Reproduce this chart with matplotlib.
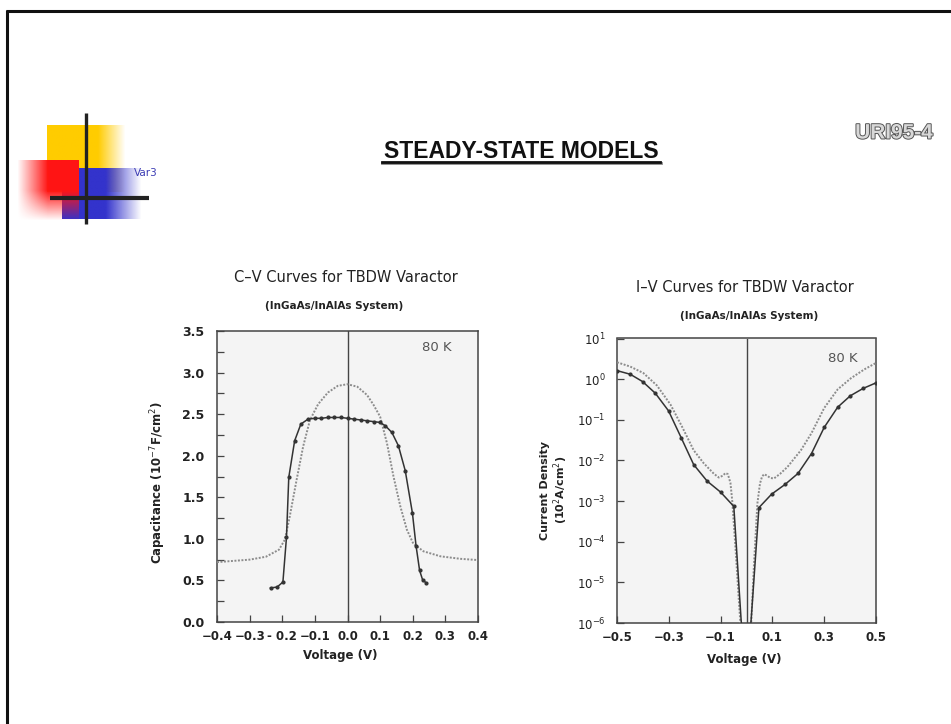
import numpy as np
import matplotlib
matplotlib.use("Agg")
import matplotlib.pyplot as plt
import matplotlib.patheffects as pe
from matplotlib.ticker import MultipleLocator, FixedLocator, LogLocator, NullLocator

# ---------------- data ----------------
# C-V chart (80 K)
cv_meas_v = [-0.236, -0.216, -0.198, -0.187, -0.180, -0.162, -0.143, -0.121, -0.10, -0.08, -0.06,
             -0.04, -0.02, 0.0, 0.02, 0.04, 0.06, 0.08, 0.10, 0.116, 0.136, 0.156, 0.177, 0.199,
             0.210, 0.221, 0.230, 0.241]
cv_meas_c = [0.41, 0.42, 0.48, 1.02, 1.74, 2.18, 2.38, 2.44, 2.45, 2.45, 2.46,
             2.46, 2.46, 2.45, 2.44, 2.43, 2.42, 2.41, 2.40, 2.36, 2.28, 2.12, 1.82, 1.31,
             0.92, 0.62, 0.51, 0.47]
cv_theo_v = [-0.40, -0.35, -0.30, -0.25, -0.21, -0.192, -0.177, -0.156, -0.136, -0.115, -0.09,
             -0.06, -0.03, 0.0, 0.03, 0.06, 0.08, 0.10, 0.121, 0.141, 0.162, 0.182, 0.202,
             0.233, 0.285, 0.346, 0.40]
cv_theo_c = [0.72, 0.735, 0.75, 0.785, 0.87, 0.99, 1.27, 1.71, 2.11, 2.43, 2.62,
             2.76, 2.84, 2.86, 2.83, 2.73, 2.61, 2.47, 2.15, 1.75, 1.39, 1.11, 0.94,
             0.85, 0.79, 0.76, 0.745]

# I-V chart (80 K), current density in 10^2 A/cm^2
iv_meas_left_v = [-0.5, -0.449, -0.401, -0.352, -0.301, -0.252, -0.204, -0.152, -0.10, -0.049, -0.019]
iv_meas_left_j = [1.62, 1.32, 0.87, 0.45, 0.166, 0.036, 0.0079, 0.0031, 0.00166, 0.00074, 8e-7]
iv_meas_right_v = [0.016, 0.048, 0.097, 0.149, 0.199, 0.251, 0.300, 0.352, 0.401, 0.45, 0.50]
iv_meas_right_j = [8e-7, 0.00069, 0.00148, 0.00257, 0.0048, 0.0148, 0.065, 0.204, 0.39, 0.59, 0.81]
iv_theo_left_v = [-0.5, -0.449, -0.398, -0.346, -0.294, -0.249, -0.204, -0.165, -0.126, -0.107,
                  -0.092, -0.081, -0.072, -0.062, -0.055, -0.042, -0.030, -0.022]
iv_theo_left_j = [2.6, 2.04, 1.41, 0.70, 0.24, 0.068, 0.0178, 0.0085, 0.0047, 0.0038,
                  0.0042, 0.0049, 0.0046, 0.0028, 0.001, 6.3e-5, 4e-6, 7e-7]
iv_theo_right_v = [0.017, 0.029, 0.042, 0.052, 0.060, 0.068, 0.080, 0.092, 0.106, 0.130, 0.158,
                   0.21, 0.251, 0.30, 0.352, 0.403, 0.455, 0.50]
iv_theo_right_j = [7e-7, 2.9e-5, 0.00087, 0.0027, 0.0040, 0.0046, 0.0042, 0.0037, 0.0036, 0.0047, 0.0069,
                   0.0178, 0.047, 0.195, 0.56, 1.05, 1.74, 2.5]

cv_xticks = [-0.4, -0.3, -0.2, -0.1, 0.0, 0.1, 0.2, 0.3, 0.4]
cv_xticklabels = ["\u22120.4", "\u22120.3", "- 0.2", "\u22120.1", "0.0", "0.1", "0.2", "0.3", "0.4"]
cv_yticks = [0.0, 0.5, 1.0, 1.5, 2.0, 2.5, 3.0, 3.5]
iv_xticks = [-0.5, -0.3, -0.1, 0.1, 0.3, 0.5]
iv_xticklabels = ["\u22120.5", "\u22120.3", "\u22120.1", "0.1", "0.3", "0.5"]

# ---------------- figure ----------------
W, H = 951, 724
fig = plt.figure(figsize=(W / 100, H / 100), dpi=100)
fig.patch.set_facecolor("white")

def fx(px):
    return px / W

def fy(py):
    return 1 - py / H

# background / decoration axes in pixel coordinates
bg = fig.add_axes([0, 0, 1, 1], zorder=0)
bg.set_xlim(0, W)
bg.set_ylim(H, 0)
bg.axis("off")

def grad_rect(ax, x0, x1, y0, y1, rgb, alpha_fn, n=64):
    xs = np.linspace(0, 1, n)
    ys = np.linspace(0, 1, n)
    X, Y = np.meshgrid(xs, ys)
    img = np.zeros((n, n, 4))
    img[..., 0], img[..., 1], img[..., 2] = rgb
    img[..., 3] = alpha_fn(X, Y)
    ax.imshow(img, extent=(x0, x1, y1, y0), origin="upper", interpolation="bilinear",
              aspect="auto", zorder=2)

# yellow block
grad_rect(bg, 47, 126, 125, 192, (1.0, 0.80, 0.0),
          lambda X, Y: np.clip((1 - X) / 0.35, 0, 1))
# blue block
grad_rect(bg, 62, 142, 168, 219, (0.20, 0.20, 0.80),
          lambda X, Y: np.clip((1 - X) / 0.45, 0, 1))
# red block
grad_rect(bg, 17, 79, 160, 221, (1.0, 0.08, 0.08),
          lambda X, Y: np.clip(X * 2.0, 0, 1) * np.clip((1 - Y) * 2.0, 0, 1))
# cross lines
bg.plot([86, 86], [113, 224], color="#222222", lw=2.4, zorder=3, solid_capstyle="butt")
bg.plot([50, 149], [197.5, 197.5], color="#222222", lw=3.0, zorder=3, solid_capstyle="butt")
bg.text(134, 173, "Var3", color="#3c3cb4", fontsize=7.5, va="center", ha="left", zorder=4,
        family="DejaVu Sans")

# slide border
bg.plot([5.5, W], [10.5, 10.5], color="#111111", lw=2.2, zorder=3, solid_capstyle="butt")
bg.plot([6.5, 6.5], [10, H], color="#111111", lw=2.2, zorder=3, solid_capstyle="butt")

# heading
bg.text(521, 151, "STEADY-STATE MODELS", fontsize=16.5, fontweight="bold", ha="center",
        va="center", color="#111111", family="Liberation Sans", zorder=4)
bg.plot([382, 661], [163, 163], color="#888888", lw=2.0, zorder=3)
bg.plot([382, 660], [161.5, 161.5], color="#111111", lw=2.0, zorder=4)
bg.text(894, 133, "URI95-4", fontsize=15, fontweight="bold", ha="center", va="center",
        color="#d8d8d8", family="Liberation Sans", zorder=4,
        path_effects=[pe.withStroke(linewidth=1.4, foreground="#555555")])

text_color = "#222222"
theo_kw = dict(color="#8c8c8c", lw=1.4, linestyle=(0, (1, 0.8)), zorder=3)
meas_kw = dict(color="#333333", lw=1.1, zorder=4)
mark_kw = dict(linestyle="none", marker="o", ms=2.0, color="#333333", zorder=5)

# ---------------- C-V axes ----------------
ax1 = fig.add_axes([fx(217), fy(622), (478 - 217) / W, (622 - 331) / H], zorder=2)
ax1.set_facecolor("#f4f4f4")
ax1.plot(cv_theo_v, cv_theo_c, **theo_kw)
ax1.plot(cv_meas_v, cv_meas_c, **meas_kw)
ax1.plot(cv_meas_v, cv_meas_c, **mark_kw)
ax1.axvline(0.0, color="#444444", lw=1.0, zorder=2)
ax1.set_xlim(-0.4, 0.4)
ax1.set_ylim(0.0, 3.5)
ax1.xaxis.set_major_locator(FixedLocator(cv_xticks))
ax1.set_xticklabels(cv_xticklabels)
ax1.yaxis.set_major_locator(FixedLocator(cv_yticks))
ax1.set_yticklabels(["%.1f" % v for v in cv_yticks])
ax1.yaxis.set_minor_locator(MultipleLocator(0.25))
ax1.tick_params(axis="both", which="both", direction="in", top=False, right=False,
                color="#444444", labelcolor=text_color)
ax1.tick_params(axis="both", which="major", length=5, width=0.9)
ax1.tick_params(axis="y", which="minor", length=5, width=0.9)
ax1.tick_params(axis="x", which="major", labelsize=8.5, pad=6)
ax1.tick_params(axis="y", which="major", labelsize=9, pad=9)
for lab in ax1.get_xticklabels() + ax1.get_yticklabels():
    lab.set_fontweight("bold")
for sp in ax1.spines.values():
    sp.set_color("#444444")
    sp.set_linewidth(1.1)
ax1.text(0.843, 0.942, "80 K", transform=ax1.transAxes, ha="center", va="center",
         fontsize=9.5, color="#555555")

fig.text(fx(346), fy(277), "C\u2013V Curves for TBDW Varactor", ha="center", va="center",
         fontsize=10.5, color=text_color, family="DejaVu Sans")
fig.text(fx(334), fy(306), "(InGaAs/InAlAs System)", ha="center", va="center",
         fontsize=7.5, fontweight="bold", color=text_color, family="DejaVu Sans")
fig.text(fx(158), fy(483), "Capacitance (10$^{-7}$F/cm$^{2}$)", ha="center", va="center",
         rotation=90, fontsize=8.5, fontweight="bold", color=text_color, family="DejaVu Sans")
fig.text(fx(340), fy(656), "Voltage (V)", ha="center", va="center",
         fontsize=8.5, fontweight="bold", color=text_color, family="DejaVu Sans")

# ---------------- I-V axes ----------------
ax2 = fig.add_axes([fx(617), fy(623), (876 - 617) / W, (623 - 338.5) / H], zorder=2)
ax2.set_facecolor("#f4f4f4")
ax2.set_yscale("log")
ax2.plot(iv_theo_left_v, iv_theo_left_j, **theo_kw)
ax2.plot(iv_theo_right_v, iv_theo_right_j, **theo_kw)
ax2.plot(iv_meas_left_v, iv_meas_left_j, **meas_kw)
ax2.plot(iv_meas_right_v, iv_meas_right_j, **meas_kw)
ax2.plot(iv_meas_left_v[:-1], iv_meas_left_j[:-1], **mark_kw)
ax2.plot(iv_meas_right_v[1:], iv_meas_right_j[1:], **mark_kw)
ax2.axvline(0.0, color="#444444", lw=1.0, zorder=2)
ax2.set_xlim(-0.5, 0.5)
ax2.set_ylim(1e-6, 1e1)
ax2.xaxis.set_major_locator(FixedLocator(iv_xticks))
ax2.set_xticklabels(iv_xticklabels)
ax2.yaxis.set_major_locator(LogLocator(base=10, numticks=10))
ax2.yaxis.set_minor_locator(NullLocator())
ax2.tick_params(axis="both", which="both", direction="in", top=False, right=False,
                color="#444444", labelcolor=text_color)
ax2.tick_params(axis="both", which="major", length=5, width=0.9)
ax2.tick_params(axis="x", which="major", labelsize=8.5, pad=6)
ax2.tick_params(axis="y", which="major", labelsize=8.5, pad=8)
for lab in ax2.get_xticklabels():
    lab.set_fontweight("bold")
for sp in ax2.spines.values():
    sp.set_color("#444444")
    sp.set_linewidth(1.1)
ax2.text(0.873, 0.931, "80 K", transform=ax2.transAxes, ha="center", va="center",
         fontsize=9.5, color="#555555")

fig.text(fx(745), fy(287), "I\u2013V Curves for TBDW Varactor", ha="center", va="center",
         fontsize=10.5, color=text_color, family="DejaVu Sans")
fig.text(fx(749), fy(316), "(InGaAs/InAlAs System)", ha="center", va="center",
         fontsize=7.5, fontweight="bold", color=text_color, family="DejaVu Sans")
fig.text(fx(555), fy(490), "Current Density\n(10$^{2}$A/cm$^{2}$)", ha="center", va="center",
         rotation=90, fontsize=8, fontweight="bold", color=text_color, family="DejaVu Sans",
         linespacing=1.1)
fig.text(fx(744), fy(659), "Voltage (V)", ha="center", va="center",
         fontsize=8.5, fontweight="bold", color=text_color, family="DejaVu Sans")

fig.savefig("out.png", dpi=100, facecolor="white")
